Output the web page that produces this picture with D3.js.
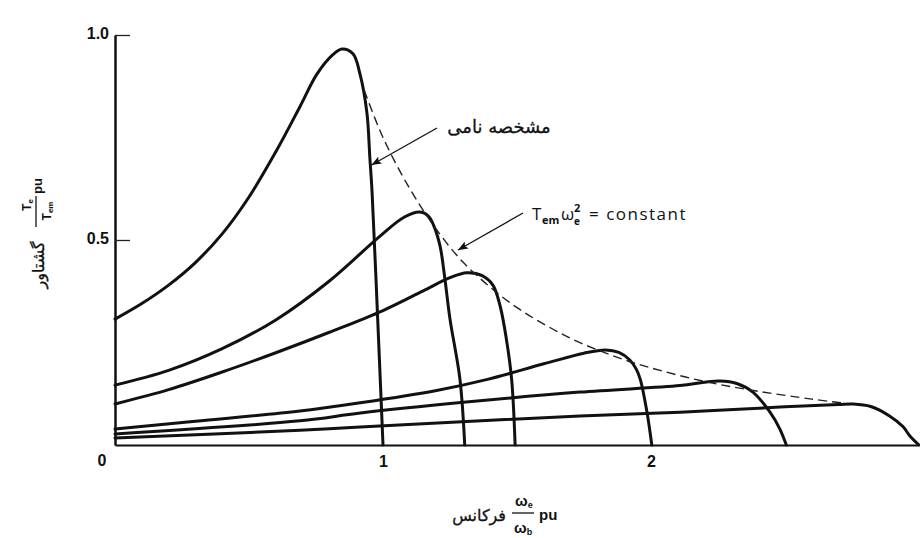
<!DOCTYPE html>
<html><head><meta charset="utf-8">
<script src="https://cdn.jsdelivr.net/npm/d3@7"></script>
<style>body{margin:0;background:#fff} svg{display:block}</style>
</head><body>
<svg id="c" width="920" height="538"></svg>
<script>
// ---- data ----
const curve1 = [[0,0.307],[0.1,0.345],[0.2,0.39],[0.3,0.445],[0.4,0.515],[0.5,0.605],[0.6,0.715],[0.69,0.825],[0.754,0.905],[0.813,0.952],[0.847,0.966],[0.888,0.954],[0.914,0.905],[0.94,0.81],[0.951,0.70],[0.959,0.62],[0.98,0.31],[1.0,0]];
const curve2 = [[0,0.146],[0.2,0.182],[0.4,0.235],[0.6,0.305],[0.8,0.40],[0.99,0.51],[1.08,0.556],[1.138,0.568],[1.17,0.558],[1.19,0.534],[1.213,0.485],[1.231,0.405],[1.25,0.307],[1.287,0.161],[1.305,0]];
const curve3 = [[0,0.10],[0.2,0.135],[0.4,0.178],[0.6,0.225],[0.8,0.275],[1.0,0.328],[1.15,0.376],[1.25,0.408],[1.313,0.42],[1.37,0.413],[1.41,0.39],[1.437,0.339],[1.46,0.26],[1.48,0.16],[1.493,0]];
const curve4 = [[0,0.039],[0.3,0.058],[0.69,0.083],[0.915,0.103],[1.2,0.133],[1.39,0.16],[1.6,0.198],[1.75,0.224],[1.83,0.232],[1.88,0.226],[1.92,0.208],[1.945,0.185],[1.96,0.16],[1.985,0.08],[2.003,0]];
const curve5 = [[0,0.027],[0.69,0.059],[0.915,0.078],[1.3,0.104],[1.735,0.129],[2.108,0.145],[2.2,0.153],[2.257,0.156],[2.32,0.15],[2.38,0.129],[2.444,0.08],[2.48,0.04],[2.505,0]];
const curve6 = [[0,0.017],[0.69,0.036],[0.915,0.044],[1.735,0.071],[2.108,0.08],[2.5,0.093],[2.7,0.099],[2.754,0.10],[2.82,0.094],[2.89,0.071],[2.94,0.045],[2.966,0.022],[3.0,0]];
const curves = [curve1, curve2, curve3, curve4, curve5, curve6];
const constantLine = [[0.93,0.865],[1.0,0.75],[1.1,0.625],[1.2,0.525],[1.3,0.445],[1.4,0.385],[1.5,0.335],[1.6,0.295],[1.7,0.26],[1.8,0.232],[1.9,0.208],[2.0,0.188],[2.2,0.155],[2.4,0.131],[2.6,0.112],[2.72,0.102]];
const yTicks = [0.5, 1.0];
const yTickLabels = ["0.5", "1.0"];
const xTicks = [1, 2, 3];
const xTickLabels = ["1", "2", "3"];
const originLabel = "0";
const nominalLabel = "مشخصه نامی";
const xLabelWord = "فرکانس";
const yLabelWord = "گشتاور";
const unitLabel = "pu";
const constantLabel = "= constant";

// ---- scales ----
const x = d3.scaleLinear().domain([0, 3]).range([115, 919]);
const y = d3.scaleLinear().domain([0, 1]).range([445, 35]);
const svg = d3.select("#c");
const latin = "'Liberation Sans', Arial, sans-serif";
const persian = "'DejaVu Sans', sans-serif";

svg.append("defs").append("marker")
  .attr("id", "ah").attr("viewBox", "0 0 10 8").attr("refX", 10).attr("refY", 4)
  .attr("markerWidth", 10).attr("markerHeight", 8).attr("markerUnits", "userSpaceOnUse")
  .attr("orient", "auto")
  .append("path").attr("d", "M0,0 L10,4 L0,8 L2,4 z").attr("fill", "#111");

// ---- axes ----
const yAxis = d3.axisLeft(y).tickValues(yTicks).tickSize(-15).tickSizeOuter(0).tickPadding(6)
  .tickFormat((d, i) => yTickLabels[i]);
const gy = svg.append("g").attr("transform", `translate(${x(0)},0)`).call(yAxis);
gy.select(".domain").attr("stroke", "#111").attr("stroke-width", 2.5);
gy.selectAll(".tick line").attr("stroke", "#222").attr("stroke-width", 1.3);
gy.selectAll(".tick text").attr("font-family", latin).attr("font-size", 16).attr("font-weight", "bold").attr("fill", "#111").attr("dy", "0.2em");

const xAxis = d3.axisBottom(x).tickValues(xTicks).tickSize(0).tickSizeOuter(0).tickPadding(11)
  .tickFormat((d, i) => xTickLabels[i]);
const gx = svg.append("g").attr("transform", `translate(0,${y(0)})`).call(xAxis);
gx.select(".domain").attr("stroke", "#111").attr("stroke-width", 2);
gx.selectAll(".tick text").attr("font-family", latin).attr("font-size", 16).attr("font-weight", "bold").attr("fill", "#111")
  .attr("dx", (d) => d === 3 ? 6 : 0);

svg.append("text").attr("x", x(0) - 13).attr("y", y(0) + 21).attr("text-anchor", "middle")
  .attr("font-family", latin).attr("font-size", 16).attr("font-weight", "bold").attr("fill", "#111").text(originLabel);

// ---- curves ----
const line = d3.line().x(d => x(d[0])).y(d => y(d[1])).curve(d3.curveCatmullRom.alpha(0.5));
svg.append("g").selectAll("path").data(curves).join("path")
  .attr("d", line).attr("fill", "none").attr("stroke", "#111").attr("stroke-width", 3)
  .attr("stroke-linejoin", "round").attr("stroke-linecap", "round");

svg.append("path").datum(constantLine).attr("d", line).attr("fill", "none")
  .attr("stroke", "#222").attr("stroke-width", 1.4).attr("stroke-dasharray", "9,5");

// ---- annotations ----
svg.append("line").attr("x1", 437).attr("y1", 128).attr("x2", x(0.957)).attr("y2", 165)
  .attr("stroke", "#111").attr("stroke-width", 1.3).attr("marker-end", "url(#ah)");
svg.append("text").attr("x", 499).attr("y", 133).attr("text-anchor", "middle")
  .attr("font-family", persian).attr("font-size", 18).attr("fill", "#111").attr("stroke", "#111").attr("stroke-width", 0.3).text(nominalLabel);

svg.append("line").attr("x1", 523).attr("y1", 213).attr("x2", 458).attr("y2", 250)
  .attr("stroke", "#111").attr("stroke-width", 1.3).attr("marker-end", "url(#ah)");
const ann = svg.append("g").attr("font-family", "'Open Sans', sans-serif").attr("fill", "#111");
ann.append("text").attr("x", 532).attr("y", 220).attr("font-size", 17).text("T");
ann.append("text").attr("x", 542).attr("y", 224).attr("font-size", 11).attr("font-weight", "bold").text("em");
ann.append("text").attr("x", 561).attr("y", 220).attr("font-size", 17).text("ω");
ann.append("text").attr("x", 574).attr("y", 212).attr("font-size", 11).attr("font-weight", "bold").text("2");
ann.append("text").attr("x", 574).attr("y", 225).attr("font-size", 10).attr("font-weight", "bold").text("e");
ann.append("text").attr("x", 589).attr("y", 220).attr("font-size", 17).attr("letter-spacing", 1.5).text(constantLabel);

// ---- x label ----
const xl = svg.append("g").attr("fill", "#111");
xl.append("text").attr("x", 506).attr("y", 521).attr("text-anchor", "end")
  .attr("font-family", persian).attr("font-size", 16).attr("stroke", "#111").attr("stroke-width", 0.3).text(xLabelWord);
xl.append("line").attr("x1", 512).attr("x2", 534).attr("y1", 513).attr("y2", 513).attr("stroke", "#111").attr("stroke-width", 1.3);
const om1 = xl.append("text").attr("x", 515).attr("y", 506).attr("font-family", latin).attr("font-size", 15).attr("font-weight", "bold");
om1.append("tspan").text("ω"); om1.append("tspan").attr("font-size", 9).attr("dy", 2).text("e");
const om2 = xl.append("text").attr("x", 514).attr("y", 533).attr("font-family", latin).attr("font-size", 15).attr("font-weight", "bold");
om2.append("tspan").text("ω"); om2.append("tspan").attr("font-size", 9).attr("dy", 2).text("b");
xl.append("text").attr("x", 539).attr("y", 520).attr("font-family", latin).attr("font-size", 15).attr("font-weight", "bold").text(unitLabel);

// ---- y label (rotated) ----
const yl = svg.append("g").attr("fill", "#111");
yl.append("text").attr("transform", "translate(44,265) rotate(-90)").attr("text-anchor", "middle")
  .attr("font-family", persian).attr("font-size", 16).attr("stroke", "#111").attr("stroke-width", 0.3).text(yLabelWord);
yl.append("line").attr("x1", 36).attr("x2", 36).attr("y1", 196).attr("y2", 227).attr("stroke", "#111").attr("stroke-width", 1.3);
const t1 = yl.append("text").attr("transform", "translate(31,205) rotate(-90)").attr("font-family", latin).attr("font-size", 12).attr("font-weight", "bold").attr("text-anchor", "middle");
t1.append("tspan").text("T"); t1.append("tspan").attr("font-size", 8).attr("dy", 2).text("e");
const t2 = yl.append("text").attr("transform", "translate(51,211) rotate(-90)").attr("font-family", latin).attr("font-size", 12).attr("font-weight", "bold").attr("text-anchor", "middle");
t2.append("tspan").text("T"); t2.append("tspan").attr("font-size", 8).attr("dy", 2).text("em");
yl.append("text").attr("transform", "translate(42,186) rotate(-90)").attr("text-anchor", "middle")
  .attr("font-family", latin).attr("font-size", 13).attr("font-weight", "bold").text(unitLabel);
</script>
</body></html>
